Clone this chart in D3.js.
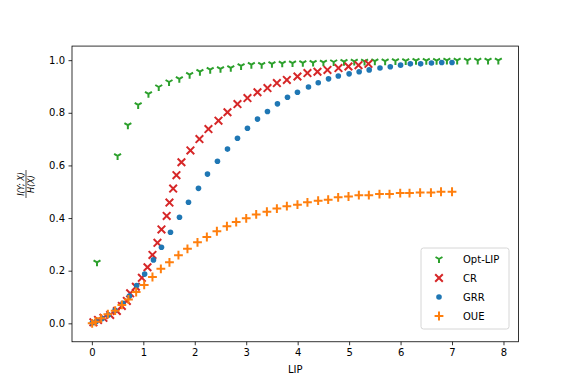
<!DOCTYPE html>
<html>
<head>
  <meta charset="utf-8" />
  <script src="https://d3js.org/d3.v7.min.js"></script>
  <style>
    body { margin: 0; background: white; }
    text { font-family: "DejaVu Sans", sans-serif; }
  </style>
</head>
<body>
  <div id="chart"></div>
  <script>
    // series values
    const optLipX = [0.1, 0.5, 0.7, 0.9, 1.1, 1.3, 1.5, 1.7, 1.9, 2.1, 2.3, 2.5, 2.7, 2.9, 3.1, 3.3, 3.5,
      3.7, 3.9, 4.1, 4.3, 4.5, 4.7, 4.9, 5.1, 5.3, 5.5, 5.7, 5.9, 6.1, 6.3, 6.5, 6.7, 6.9, 7.1, 7.3, 7.5, 7.7, 7.9];
    const optLipY = [0.232, 0.636, 0.753, 0.830, 0.872, 0.898, 0.917, 0.929, 0.945, 0.956, 0.964, 0.967, 0.971, 0.978, 0.983, 0.983, 0.986,
      0.988, 0.989, 0.990, 0.991, 0.992, 0.993, 0.994, 0.995, 0.995, 0.996, 0.996, 0.997, 0.997, 0.998, 0.998, 0.998, 0.999, 0.999, 0.999, 0.999, 0.999, 0.999];

    const crX = [0.03, 0.12, 0.225, 0.356, 0.486, 0.583, 0.68, 0.744, 0.855, 0.972, 1.081, 1.178, 1.275, 1.353, 1.454, 1.508, 1.58, 1.644, 1.741,
      1.916, 2.091, 2.266, 2.461, 2.636, 2.83, 3.024, 3.219, 3.413, 3.596, 3.79, 3.996, 4.19, 4.385, 4.579, 4.793, 4.987, 5.182, 5.376];
    const crY = [0.004, 0.013, 0.021, 0.032, 0.047, 0.066, 0.085, 0.114, 0.139, 0.173, 0.213, 0.26, 0.306, 0.357, 0.408, 0.459, 0.512, 0.563, 0.612,
      0.657, 0.7, 0.738, 0.77, 0.802, 0.833, 0.856, 0.878, 0.894, 0.913, 0.925, 0.938, 0.951, 0.956, 0.963, 0.97, 0.976, 0.981, 0.986];

    const grrX = [0.006, 0.084, 0.2, 0.32, 0.45, 0.603, 0.731, 0.871, 1.026, 1.197, 1.353, 1.528, 1.703, 1.878, 2.072, 2.247, 2.441, 2.636, 2.83,
      3.024, 3.219, 3.413, 3.607, 3.802, 3.996, 4.21, 4.4, 4.6, 4.79, 5.0, 5.195, 5.39, 5.6, 5.8, 6.0, 6.19, 6.39, 6.6, 6.8, 7.0];
    const grrY = [0.001, 0.007, 0.018, 0.032, 0.05, 0.076, 0.104, 0.144, 0.187, 0.241, 0.289, 0.346, 0.403, 0.46, 0.513, 0.567, 0.616, 0.662, 0.703,
      0.741, 0.776, 0.805, 0.834, 0.859, 0.878, 0.898, 0.914, 0.929, 0.94, 0.948, 0.956, 0.963, 0.97, 0.975, 0.981, 0.986, 0.986, 0.989, 0.991, 0.991];

    const oueX = [0.006, 0.07, 0.181, 0.311, 0.453, 0.583, 0.711, 0.861, 1.017, 1.178, 1.341, 1.508, 1.683, 1.858, 2.053, 2.235, 2.43, 2.625, 2.805,
      3.0, 3.194, 3.402, 3.596, 3.79, 3.996, 4.19, 4.398, 4.593, 4.787, 4.988, 5.189, 5.383, 5.59, 5.785, 5.993, 6.174, 6.38, 6.59, 6.786, 7.0];
    const oueY = [0.0, 0.006, 0.019, 0.035, 0.048, 0.07, 0.091, 0.119, 0.146, 0.176, 0.207, 0.232, 0.259, 0.283, 0.308, 0.328, 0.35, 0.369, 0.385,
      0.399, 0.414, 0.424, 0.436, 0.445, 0.451, 0.46, 0.466, 0.47, 0.479, 0.482, 0.487, 0.487, 0.491, 0.491, 0.495, 0.495, 0.497, 0.497, 0.5, 0.5];

    const seriesNames = ["Opt-LIP", "CR", "GRR", "OUE"];
    const xTicks = [0, 1, 2, 3, 4, 5, 6, 7, 8];
    const yTicks = [0.0, 0.2, 0.4, 0.6, 0.8, 1.0];

    const width = 576;
    const height = 384;
    const margin = { left: 72, right: 57.6, top: 46.08, bottom: 42.24 };

    const series = [
      { name: "Opt-LIP", xs: optLipX, ys: optLipY, color: "#2ca02c", shape: "tri" },
      { name: "CR", xs: crX, ys: crY, color: "#d62728", shape: "x" },
      { name: "GRR", xs: grrX, ys: grrY, color: "#1f77b4", shape: "dot" },
      { name: "OUE", xs: oueX, ys: oueY, color: "#ff7f0e", shape: "plus" }
    ];

    const svg = d3.select("#chart")
      .append("svg")
      .attr("width", width)
      .attr("height", height);

    const x = d3.scaleLinear()
      .domain([-0.386, 8.29])
      .range([margin.left, width - margin.right]);

    const y = d3.scaleLinear()
      .domain([-0.07, 1.0535])
      .range([height - margin.bottom, margin.top]);

    // draw one marker into a group
    function marker(g, shape, color) {
      if (shape === "dot") {
        g.append("circle").attr("r", 2.8).attr("fill", color);
      } else if (shape === "x") {
        g.append("path").attr("d", "M-3.8,-3.8L3.8,3.8M-3.8,3.8L3.8,-3.8")
          .attr("stroke", color).attr("stroke-width", 2).attr("fill", "none");
      } else if (shape === "plus") {
        g.append("path").attr("d", "M-4.4,0L4.4,0M0,-4.4L0,4.4")
          .attr("stroke", color).attr("stroke-width", 2).attr("fill", "none");
      } else {
        const r = 4;
        g.append("path")
          .attr("d", `M0,0L0,${r}M0,0L${-0.866 * r},${-0.5 * r}M0,0L${0.866 * r},${-0.5 * r}`)
          .attr("stroke", color).attr("stroke-width", 2).attr("fill", "none");
      }
    }

    series.forEach(function (s) {
      const pts = s.xs.map((v, i) => [v, s.ys[i]]);
      svg.append("g")
        .selectAll("g")
        .data(pts)
        .enter().append("g")
        .attr("transform", d => `translate(${x(d[0])},${y(d[1])})`)
        .each(function () { marker(d3.select(this), s.shape, s.color); });
    });

    // axes
    const xAxis = svg.append("g")
      .attr("transform", `translate(0,${height - margin.bottom})`)
      .call(d3.axisBottom(x).tickValues(xTicks).tickFormat(d3.format("d")).tickSize(3.5).tickPadding(3.5));

    const yAxis = svg.append("g")
      .attr("transform", `translate(${margin.left},0)`)
      .call(d3.axisLeft(y).tickValues(yTicks).tickFormat(d3.format(".1f")).tickSize(3.5).tickPadding(3.5));

    [xAxis, yAxis].forEach(function (a) {
      a.select(".domain").remove();
      a.selectAll("line").attr("stroke", "black").attr("stroke-width", 0.8);
      a.selectAll("text").attr("font-size", 10).attr("fill", "black")
        .style("font-family", "DejaVu Sans, sans-serif");
    });

    svg.append("rect")
      .attr("x", margin.left)
      .attr("y", margin.top)
      .attr("width", width - margin.left - margin.right)
      .attr("height", height - margin.top - margin.bottom)
      .attr("fill", "none")
      .attr("stroke", "black")
      .attr("stroke-width", 0.8);

    svg.append("text")
      .attr("x", (margin.left + width - margin.right) / 2)
      .attr("y", 373)
      .attr("text-anchor", "middle")
      .attr("font-size", 10)
      .text("LIP");

    // y label: I(Y;X) / H(X)
    const yl = svg.append("g")
      .attr("transform", "translate(26,184) rotate(-90)");
    yl.append("text")
      .attr("y", -2.5)
      .attr("text-anchor", "middle")
      .attr("font-size", 8)
      .attr("font-style", "italic")
      .text("I(Y; X)");
    yl.append("line")
      .attr("x1", -14).attr("x2", 14)
      .attr("y1", 0).attr("y2", 0)
      .attr("stroke", "black").attr("stroke-width", 0.7);
    yl.append("text")
      .attr("y", 8)
      .attr("text-anchor", "middle")
      .attr("font-size", 8)
      .attr("font-style", "italic")
      .text("H(X)");

    // legend
    const legend = svg.append("g").attr("transform", "translate(421,248)");
    legend.append("rect")
      .attr("width", 88)
      .attr("height", 81)
      .attr("rx", 2.5)
      .attr("fill", "white")
      .attr("fill-opacity", 0.8)
      .attr("stroke", "#cccccc")
      .attr("stroke-width", 0.8);

    series.forEach(function (s, i) {
      const row = legend.append("g").attr("transform", `translate(0,${11 + i * 19})`);
      marker(row.append("g").attr("transform", "translate(18,0)"), s.shape, s.color);
      row.append("text")
        .attr("x", 42)
        .attr("y", 3.5)
        .attr("font-size", 10)
        .text(seriesNames[i]);
    });
  </script>
</body>
</html>
